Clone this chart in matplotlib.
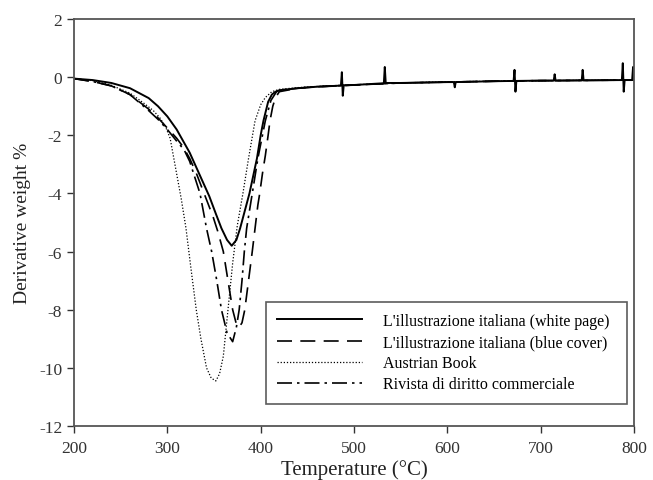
import matplotlib
matplotlib.use("Agg")
import matplotlib.pyplot as plt

# ---- data ----
temp_white = [200, 220, 240, 260, 280, 290, 300, 310, 317, 324, 331, 338, 345, 352, 358, 364, 369,
              374, 378, 383, 388, 392, 396, 400, 403, 408, 412, 416, 420,
              440, 460, 480, 486, 487, 488, 489, 500, 532, 533, 534, 550, 600, 607, 608, 609, 650,
              671, 672, 673, 674, 700, 714, 715, 716, 744, 745, 746, 750, 787, 788, 789, 790, 798, 799, 800]
val_white = [-0.05, -0.1, -0.2, -0.38, -0.72, -1.0, -1.35, -1.8, -2.2, -2.6, -3.1, -3.6, -4.1, -4.7, -5.2, -5.6, -5.8,
             -5.6, -5.2, -4.6, -4.0, -3.4, -2.8, -2.0, -1.5, -0.85, -0.6, -0.5, -0.45,
             -0.38, -0.33, -0.3, -0.29, 0.17, -0.64, -0.28, -0.27, -0.21, 0.35, -0.2, -0.2, -0.17, -0.17, -0.35, -0.17, -0.14,
             -0.13, 0.25, -0.5, -0.13, -0.12, -0.12, 0.1, -0.12, -0.11, 0.25, -0.11, -0.11, -0.1, 0.48, -0.5, -0.1, -0.1, 0.35, -0.1]

temp_blue = [200, 220, 240, 260, 280, 290, 300, 310, 317, 324, 331, 337, 343, 349, 354, 360, 365, 370,
             374, 377, 380, 383, 387, 391, 394, 397, 399, 402, 405, 408, 410, 413, 416, 420,
             440, 460, 500, 550, 600, 650, 700, 750, 800]
val_blue = [-0.05, -0.15, -0.3, -0.6, -1.1, -1.4, -1.75, -2.1, -2.4, -2.8, -3.3, -3.8, -4.3, -4.8, -5.3, -6.0, -7.0, -8.0,
            -8.5, -8.6, -8.45, -8.0, -7.0, -6.0, -5.2, -4.4, -4.0, -3.3, -2.7, -2.0, -1.5, -1.0, -0.7, -0.5,
            -0.38, -0.33, -0.27, -0.2, -0.17, -0.14, -0.12, -0.11, -0.1]

temp_austrian = [200, 220, 240, 260, 275, 285, 292, 298, 303, 307, 311, 315, 320, 325, 331, 336, 342, 347, 352,
                 356, 360, 365, 370, 375, 381, 387, 394, 400, 405, 412, 420,
                 440, 460, 500, 550, 600, 650, 700, 750, 800]
val_austrian = [-0.05, -0.12, -0.28, -0.55, -0.9, -1.15, -1.4, -1.7, -2.1, -2.8, -3.5, -4.2, -5.2, -6.5, -8.0, -9.0, -10.0, -10.35, -10.45,
                -10.2, -9.6, -8.0, -6.4, -5.1, -4.0, -2.8, -1.5, -0.95, -0.7, -0.5, -0.42,
                -0.36, -0.32, -0.26, -0.2, -0.16, -0.14, -0.12, -0.11, -0.1]

temp_rivista = [200, 220, 240, 260, 280, 290, 300, 310, 318, 324, 330, 335, 342, 347.5, 353, 358, 364, 370,
                374, 377, 380, 382.5, 385, 391, 397, 405, 411, 417, 420,
                440, 460, 500, 550, 600, 650, 700, 750, 800]
val_rivista = [-0.05, -0.15, -0.3, -0.6, -1.15, -1.45, -1.8, -2.2, -2.5, -2.9, -3.5, -4.0, -5.2, -6.0, -7.0, -8.0, -8.8, -9.1,
               -8.6, -8.0, -7.0, -6.0, -5.2, -4.0, -2.8, -1.5, -0.8, -0.5, -0.45,
               -0.38, -0.33, -0.27, -0.2, -0.17, -0.14, -0.12, -0.11, -0.1]

labels = ["L'illustrazione italiana (white page)",
          "L'illustrazione italiana (blue cover)",
          "Austrian Book",
          "Rivista di diritto commerciale"]
x_ticks = [200, 300, 400, 500, 600, 700, 800]
y_ticks = [2, 0, -2, -4, -6, -8, -10, -12]

plt.rcParams['font.family'] = ['Liberation Serif', 'DejaVu Serif']
plt.rcParams['axes.unicode_minus'] = False

fig = plt.figure(figsize=(6.53, 4.81), dpi=100)
ax = fig.add_axes([0.1133, 0.1123, 0.8576, 0.8461])

ax.plot(temp_white, val_white, color='black', lw=1.4, ls='-', label=labels[0])
ax.plot(temp_blue, val_blue, color='black', lw=1.2, ls=(0, (9, 5)), label=labels[1])
ax.plot(temp_austrian, val_austrian, color='black', lw=0.9, ls=(0, (1, 1.5)), label=labels[2])
ax.plot(temp_rivista, val_rivista, color='black', lw=1.2, ls=(0, (9, 3, 1.5, 3)), label=labels[3])

ax.set_xlim(200, 800)
ax.set_ylim(-12, 2)
ax.set_xticks(x_ticks)
ax.set_yticks(y_ticks)
ax.tick_params(direction='out', length=5, width=1, labelsize=12.5, colors='#333333',
               top=False, right=False)
ax.tick_params(axis='x', pad=5)
for sp in ax.spines.values():
    sp.set_color('#555555')
    sp.set_linewidth(1.3)

ax.set_xlabel('Temperature (°C)', fontsize=15, color='#222222', labelpad=2)
ax.set_ylabel('Derivative weight %', fontsize=14, color='#222222', labelpad=6)

leg = ax.legend(loc='upper left', bbox_to_anchor=(0.343, 0.052, 0.645, 0.253), mode='expand',
                borderaxespad=0, fontsize=11.5, handlelength=5.3, handletextpad=1.3,
                frameon=True, fancybox=False, borderpad=0.7, labelspacing=0.32)
leg.get_frame().set_edgecolor('#333333')
leg.get_frame().set_linewidth(1.2)

fig.savefig('out.png', dpi=100)
